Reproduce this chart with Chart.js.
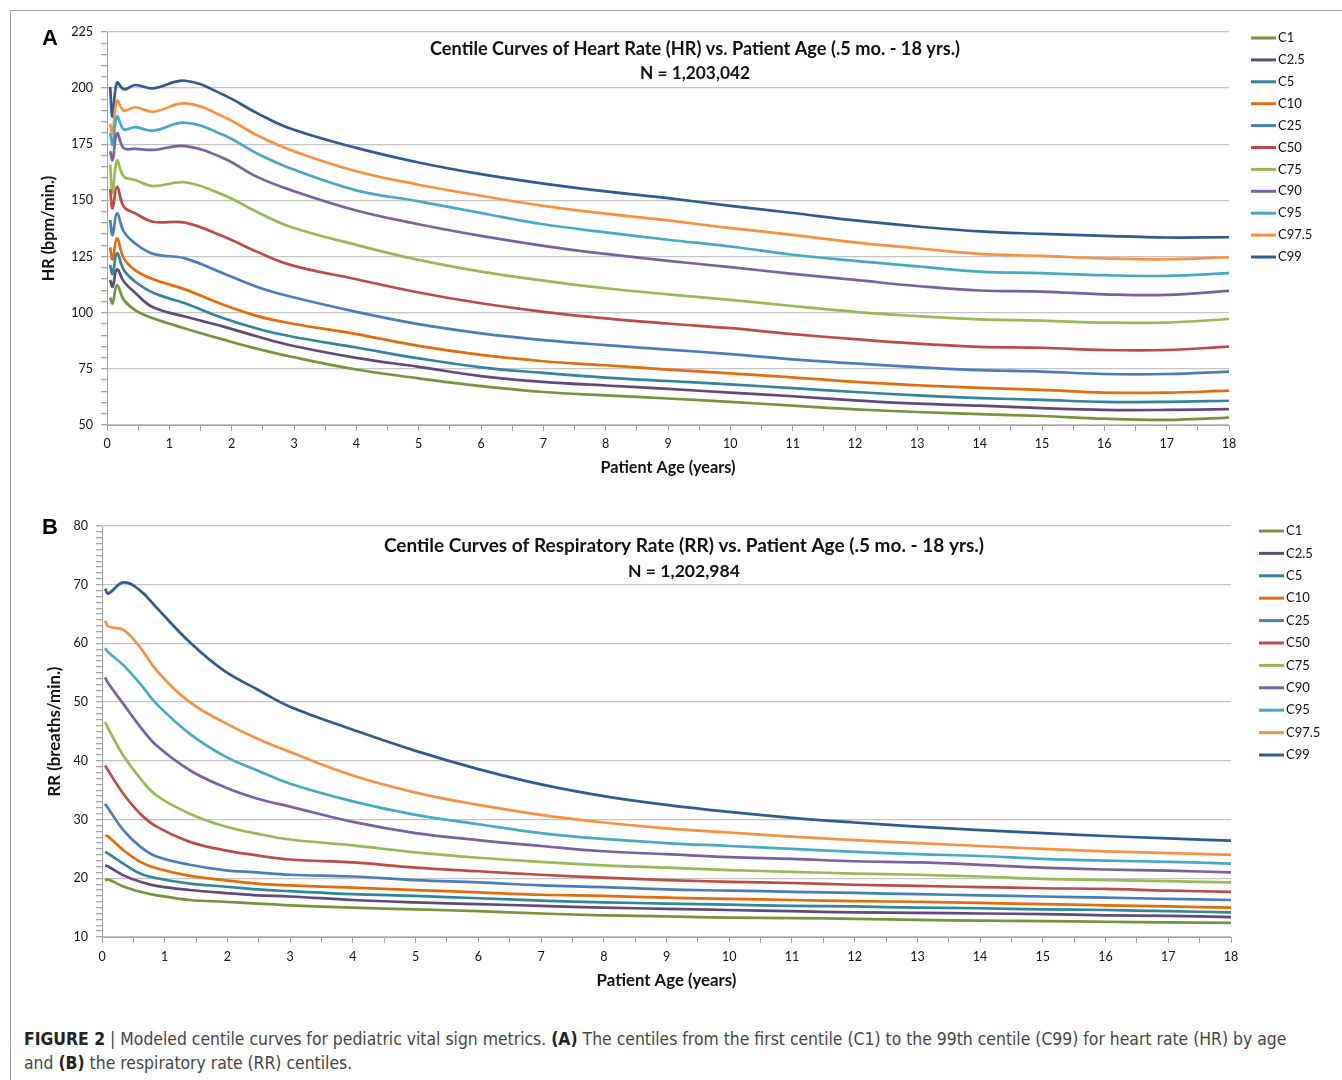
<!DOCTYPE html>
<html>
<head>
<meta charset="utf-8">
<script src="https://cdn.jsdelivr.net/npm/chart.js@4.4.1/dist/chart.umd.min.js"></script>
<style>
  body { margin: 0; background: #fff; width: 1342px; height: 1080px; overflow: hidden; position: relative; }
  #frame { position: absolute; left: 10px; top: 10px; width: 1345px; height: 1080px; border: 1px solid #a0a0a0; box-sizing: border-box; }
  .panel { position: absolute; left: 0; width: 1342px; }
  .tag { position: absolute; font: bold 22px "Liberation Sans", Arial, sans-serif; color: #000; }
  #caption { position: absolute; left: 24px; top: 1027px; width: 1310px; font: 17.4px "Liberation Sans Narrow", "Arial Narrow", "DejaVu Sans Condensed", sans-serif; line-height: 24px; color: #454545; }
  #caption b { color: #222; }
</style>
</head>
<body>
<div id="frame"></div>
<div class="panel" style="top:0;height:485px"><canvas id="hrChart"></canvas></div>
<div class="panel" style="top:490px;height:505px"><canvas id="rrChart"></canvas></div>
<div class="tag" style="left:42px;top:25px">A</div>
<div class="tag" style="left:42px;top:514px">B</div>
<div id="caption"><b>FIGURE 2</b> | Modeled centile curves for pediatric vital sign metrics. <b>(A)</b> The centiles from the first centile (C1) to the 99th centile (C99) for heart rate (HR) by age<br>and <b>(B)</b> the respiratory rate (RR) centiles.</div>

<script>
// centile names, in legend order
let centiles = ["C1", "C2.5", "C5", "C10", "C25", "C50", "C75", "C90", "C95", "C97.5", "C99"];
let lineColors = ["#77933C", "#604A7B", "#31859C", "#E46C0A", "#4A7EBB", "#BE4B48", "#98B954", "#7D60A0", "#46AAC5", "#F69240", "#2F5B8E"];

// heart rate (bpm/min) by age (years)
let hrAge = [0.05, 0.09, 0.16, 0.27, 0.45, 0.74, 1.25, 1.87, 2.4, 2.94, 4, 5, 6, 7, 8, 9, 10, 11, 12, 13, 14, 15, 16, 17, 18];
let hrC1 = [106.7, 104.2, 112.3, 105.7, 101.2, 97.5, 93, 88, 84, 80.5, 74.7, 70.8, 67.3, 64.7, 63.2, 61.8, 60.3, 58.6, 57, 55.8, 54.8, 54, 52.8, 52.3, 53.3];
let hrC2_5 = [114.6, 111.6, 119.3, 113.9, 108.9, 102.4, 98.3, 93.8, 89.5, 85.5, 79.9, 75.9, 71.8, 69.2, 67.6, 66.1, 64.4, 62.8, 61, 59.5, 58.6, 57.5, 56.7, 56.7, 57.1];
let hrC5 = [121.3, 117.3, 126.5, 119, 113.9, 108.9, 104.2, 97.5, 93, 89.5, 84.5, 79.7, 75.7, 73.2, 71.1, 69.6, 68.1, 66.4, 64.7, 63.2, 62, 61.2, 60.3, 60.3, 60.8];
let hrC10 = [129.1, 123.8, 133.1, 124.2, 119, 114.9, 110.4, 103.5, 98.6, 95.3, 90.5, 85.2, 81.2, 78.4, 76.6, 74.7, 73, 71.2, 69.2, 67.7, 66.5, 65.6, 64.4, 64.4, 65.3];
let hrC25 = [141.3, 134.6, 144.3, 136.1, 130.9, 126.2, 124.2, 117.5, 111.6, 107.2, 100.4, 94.9, 90.8, 87.8, 85.6, 83.6, 81.6, 79.2, 77.4, 75.8, 74.4, 73.8, 72.7, 72.7, 73.8];
let hrC50 = [155, 146.5, 156.1, 147.2, 144.3, 140.5, 140.1, 133.9, 127.2, 121.3, 114.9, 109, 104.2, 100.4, 97.5, 95.2, 93.1, 90.5, 88.2, 86.2, 84.8, 84.4, 83.4, 83.4, 84.9];
let hrC75 = [166, 153.2, 167.7, 160.6, 159.1, 156.4, 158.1, 152.4, 145, 138.3, 130.2, 123.5, 118.3, 114.3, 110.9, 108.2, 105.7, 103, 100.4, 98.5, 97, 96.5, 95.6, 95.6, 97.2];
let hrC90 = [172, 168, 179.9, 173.2, 173, 172.5, 174.2, 168.8, 160.6, 154.7, 145.5, 139.4, 134.2, 129.8, 126.2, 123.1, 120.3, 117.3, 114.6, 111.9, 109.9, 109.4, 108.2, 107.9, 109.7];
let hrC95 = [180, 175, 187.3, 181.7, 182.6, 181.1, 184.6, 179.1, 171, 164.3, 154.5, 149.6, 144.4, 139.4, 135.8, 132.5, 129.5, 125.8, 123.1, 120.6, 118.3, 117.6, 116.7, 116.4, 117.6];
let hrC97_5 = [184, 180, 194.3, 190, 191.5, 189.5, 193.2, 187.3, 179.1, 172.5, 163, 157, 152.1, 147.6, 144.1, 141.1, 137.7, 134.7, 131.3, 128.7, 126.2, 125.3, 124.2, 123.8, 124.7];
let hrC99 = [200.6, 187.3, 202.4, 199.5, 201.4, 199.9, 203.3, 197, 189, 182, 173.4, 166.9, 161.7, 157.5, 154, 151, 147.6, 144.4, 141.1, 138.4, 136.2, 135.1, 134.2, 133.5, 133.6];

// respiratory rate (breaths/min) by age (years)
let rrAge = [0.05, 0.1, 0.34, 0.61, 0.87, 1.4, 1.94, 2.47, 3, 4, 5, 6, 7, 8, 9, 10, 11, 12, 13, 14, 15, 16, 17, 18];
let rrC1 = [19.6, 19.8, 18.6, 17.7, 17.1, 16.3, 16, 15.7, 15.4, 15, 14.7, 14.4, 14, 13.7, 13.5, 13.3, 13.2, 13.1, 12.9, 12.8, 12.7, 12.6, 12.5, 12.4];
let rrC2_5 = [22.2, 22, 20.5, 19.4, 18.7, 18, 17.5, 17.1, 16.9, 16.3, 15.9, 15.6, 15.3, 15, 14.8, 14.6, 14.4, 14.2, 14.1, 14, 13.9, 13.7, 13.6, 13.4];
let rrC5 = [24.5, 24.2, 22.5, 20.8, 20, 19.1, 18.6, 18.1, 17.8, 17.3, 17, 16.6, 16.2, 15.9, 15.7, 15.5, 15.3, 15.2, 15, 14.9, 14.7, 14.6, 14.4, 14.2];
let rrC10 = [27.3, 27.1, 24.8, 22.8, 21.7, 20.4, 19.7, 19.1, 18.8, 18.4, 18, 17.6, 17.2, 17, 16.7, 16.5, 16.3, 16.1, 16, 15.8, 15.6, 15.4, 15.2, 15];
let rrC25 = [32.7, 31.9, 28.2, 25.4, 23.7, 22.3, 21.4, 21, 20.6, 20.3, 19.7, 19.3, 18.8, 18.5, 18.1, 17.9, 17.7, 17.5, 17.3, 17.1, 16.9, 16.7, 16.5, 16.3];
let rrC50 = [39.2, 38.3, 34.4, 31, 28.8, 26.2, 24.8, 23.9, 23.2, 22.7, 21.8, 21.2, 20.6, 20.1, 19.7, 19.4, 19.2, 18.9, 18.7, 18.5, 18.3, 18.2, 17.9, 17.7];
let rrC75 = [46.6, 45.5, 40.9, 37, 34.1, 31, 28.9, 27.6, 26.6, 25.6, 24.4, 23.5, 22.8, 22.2, 21.8, 21.4, 21.1, 20.8, 20.6, 20.3, 19.9, 19.7, 19.5, 19.3];
let rrC90 = [54.2, 53.2, 49.7, 45.8, 42.6, 38.4, 35.6, 33.6, 32.2, 29.6, 27.7, 26.5, 25.5, 24.6, 24.1, 23.6, 23.3, 22.9, 22.7, 22.3, 21.8, 21.5, 21.3, 21];
let rrC95 = [59.2, 58.5, 56.3, 53.1, 49.7, 44.6, 40.9, 38.4, 36.1, 33.1, 30.8, 29.2, 27.7, 26.7, 26, 25.5, 25, 24.5, 24.1, 23.8, 23.3, 23, 22.8, 22.5];
let rrC97_5 = [63.9, 62.9, 62.3, 59.3, 55.4, 50, 46.6, 43.8, 41.5, 37.5, 34.6, 32.5, 30.8, 29.5, 28.5, 27.8, 27.1, 26.5, 26, 25.5, 25, 24.6, 24.3, 24];
let rrC99 = [69.3, 68.5, 70.4, 69, 66.1, 60.2, 55.4, 52.2, 49.2, 45.3, 41.7, 38.6, 36, 34, 32.5, 31.3, 30.3, 29.5, 28.8, 28.2, 27.7, 27.2, 26.8, 26.4];

let hrSeries = [hrC1, hrC2_5, hrC5, hrC10, hrC25, hrC50, hrC75, hrC90, hrC95, hrC97_5, hrC99];
let rrSeries = [rrC1, rrC2_5, rrC5, rrC10, rrC25, rrC50, rrC75, rrC90, rrC95, rrC97_5, rrC99];

let uiFont = "Lato, 'Open Sans', sans-serif";

// title drawn inside the plot area, like the original
const innerTitle = {
  id: "innerTitle",
  afterDraw(chart, args, opts) {
    const ctx = chart.ctx;
    ctx.save();
    ctx.fillStyle = "#111";
    ctx.textAlign = "center";
    ctx.textBaseline = "middle";
    opts.lines.forEach((t, i) => {
      ctx.font = "bold " + opts.sizes[i] + "px " + uiFont;
      ctx.fillText(t, opts.x, opts.y + i * opts.gap);
    });
    ctx.restore();
  }
};

// legend to the right of the plot, line swatch then label
const sideLegend = {
  id: "sideLegend",
  afterDraw(chart, args, opts) {
    const ctx = chart.ctx;
    ctx.save();
    ctx.font = "13px " + uiFont;
    ctx.textBaseline = "middle";
    chart.data.datasets.forEach((ds, i) => {
      let y = opts.y + i * opts.step;
      ctx.strokeStyle = ds.borderColor;
      ctx.lineWidth = 3;
      ctx.beginPath();
      ctx.moveTo(opts.x, y);
      ctx.lineTo(opts.x + opts.len, y);
      ctx.stroke();
      ctx.fillStyle = "#111";
      ctx.fillText(ds.label, opts.x + opts.len + 2, y);
    });
    ctx.restore();
  }
};

const makeChart = (id, ages, series, cfg) => {
  const datasets = series.map((vals, i) => ({
    label: centiles[i],
    data: ages.map((a, k) => ({ x: a, y: vals[k] })),
    borderColor: lineColors[i],
    borderWidth: 2.7,
    pointRadius: 0,
    fill: false,
    tension: 0.4
  }));

  new Chart(document.getElementById(id), {
    type: "line",
    data: { datasets: datasets },
    plugins: [innerTitle, sideLegend],
    options: {
      responsive: true,
      maintainAspectRatio: false,
      animation: false,
      events: [],
      layout: { padding: cfg.padding },
      plugins: {
        legend: { display: false },
        tooltip: { enabled: false },
        innerTitle: cfg.title,
        sideLegend: cfg.legend
      },
      scales: {
        x: {
          type: "linear",
          min: 0,
          max: 18,
          afterFit: (s) => { s.height = 55; },
          ticks: {
            stepSize: 0.5,
            autoSkip: false,
            maxRotation: 0,
            padding: cfg.xTickPad,
            color: "#111",
            font: { family: uiFont, size: 12.5 },
            callback: (v) => (v % 1 === 0 ? v : "")
          },
          grid: { drawOnChartArea: false, tickLength: 6, tickColor: "#a6a6a6" },
          border: { color: "#a6a6a6" },
          title: {
            display: true,
            text: "Patient Age (years)",
            color: "#111",
            font: { family: uiFont, size: cfg.axisTitleSize, weight: "bold" },
            padding: { top: 4, bottom: cfg.xTitlePad }
          }
        },
        y: {
          min: cfg.yMin,
          max: cfg.yMax,
          afterFit: (s) => { s.width = cfg.yWidth; },
          ticks: {
            stepSize: cfg.minor,
            autoSkip: false,
            padding: 8,
            color: "#111",
            font: { family: uiFont, size: 12.5 },
            callback: (v) => (v % cfg.major === 0 ? v : "")
          },
          grid: {
            color: (c) => (c.tick && c.tick.value % cfg.major === 0 ? "#c4c4c4" : "rgba(0,0,0,0)"),
            lineWidth: 1.3,
            tickLength: 6,
            tickColor: "#a6a6a6"
          },
          border: { color: "#a6a6a6" },
          title: {
            display: true,
            text: cfg.yTitle,
            color: "#111",
            font: { family: uiFont, size: cfg.axisTitleSize, weight: "bold" },
            padding: { top: 4, bottom: 4 }
          }
        }
      }
    }
  });
};

window.onload = () => {
  makeChart("hrChart", hrAge, hrSeries, {
    padding: { left: 35, right: 113, top: 32, bottom: 5 },
    yWidth: 72,
    yMin: 50, yMax: 225, major: 25, minor: 5,
    yTitle: "HR (bpm/min.)",
    axisTitleSize: 16.2,
    xTickPad: 5,
    xTitlePad: 3,
    title: { x: 695, y: 49, gap: 24, sizes: [18.2, 17.3], lines: ["Centile Curves of Heart Rate (HR) vs. Patient Age (.5 mo. - 18 yrs.)", "N = 1,203,042"] },
    legend: { x: 1251, y: 38, step: 21.9, len: 25 }
  });

  makeChart("rrChart", rrAge, rrSeries, {
    padding: { left: 41, right: 111, top: 36, bottom: 3 },
    yWidth: 61,
    yMin: 10, yMax: 80, major: 10, minor: 1,
    yTitle: "RR (breaths/min.)",
    axisTitleSize: 16.8,
    xTickPad: 6,
    xTitlePad: 1,
    title: { x: 684, y: 56, gap: 25, sizes: [19, 17.6], lines: ["Centile Curves of Respiratory Rate (RR) vs. Patient Age (.5 mo. - 18 yrs.)", "N = 1,202,984"] },
    legend: { x: 1259, y: 41, step: 22.4, len: 25 }
  });
};
</script>
</body>
</html>
